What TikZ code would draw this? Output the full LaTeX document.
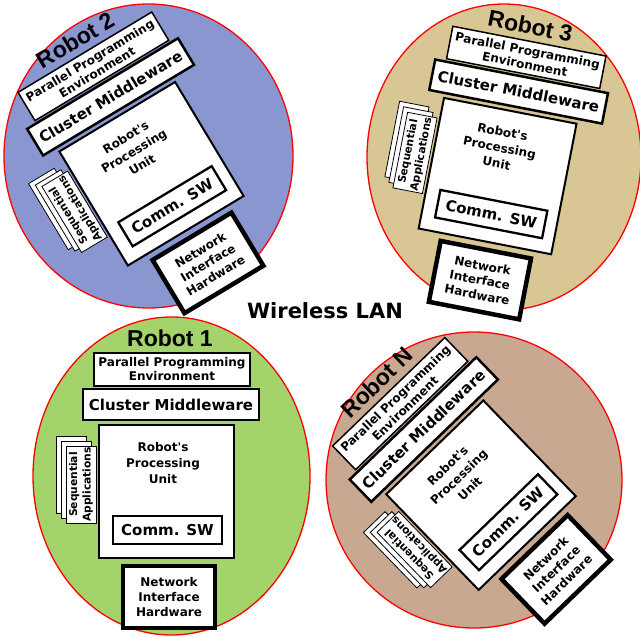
\documentclass[tikz,border=0pt]{standalone}
\usepackage{fontspec}
\newfontfamily\boxfont[Ligatures=TeXOff]{DejaVu Sans}
\newfontfamily\titlefont{Liberation Sans}
\usetikzlibrary{shapes.geometric}

\definecolor{zoneblue}{RGB}{138,150,208}
\definecolor{zonetan}{RGB}{216,199,148}
\definecolor{zonegreen}{RGB}{164,211,108}
\definecolor{zonebrown}{RGB}{201,168,145}

\tikzset{
  zone/.style={ellipse, draw=red, line width=1.3pt, inner sep=0pt},
  layer/.style={draw, fill=white, inner sep=0pt, align=center,
    font=\boxfont\bfseries\fontsize{12}{14}\selectfont},
  biglayer/.style={layer, font=\boxfont\bfseries\fontsize{15}{17}\selectfont},
  unittext/.style={inner sep=0pt, align=center,
    font=\boxfont\bfseries\fontsize{12}{16}\selectfont},
  page/.style={draw, fill=white, line width=0.8pt, inner sep=0pt,
    minimum width=30pt, minimum height=77pt},
  seqtext/.style={inner sep=0pt, align=center,
    font=\boxfont\bfseries\fontsize{10.7}{13.5}\selectfont},
  robottitle/.style={inner sep=0pt,
    font=\titlefont\bfseries\fontsize{23}{26}\selectfont},
  robot/.pic={
    \node[robottitle] (-title) at (3.5,-153.5) {#1};
    \node[layer, minimum width=156pt, minimum height=33pt, line width=1.5pt]
      (-ppe) at (5.5,-122) {Parallel Programming\\Environment};
    \node[biglayer, minimum width=176pt, minimum height=31pt, line width=2.5pt]
      (-cm) at (4.5,-87) {Cluster Middleware};
    \node[layer, minimum width=135pt, minimum height=133pt, line width=2pt]
      (-pu) at (0,0) {};
    \node[unittext] (-put) at (-3.5,-28.5) {Robot's\\Processing\\Unit};
    \node[biglayer, minimum width=109pt, minimum height=28pt, line width=2.3pt]
      (-sw) at (1,38.5) {Comm. SW};
    \node[page] (-p3) at (-95.5,-16.3) {};
    \node[page] (-p2) at (-90.5,-11.6) {};
    \node[page] (-p1) at (-85.5,-7) {};
    \node[seqtext, rotate=90] (-seq) at (-85.5,-7) {Sequential\\Applications};
    \node[layer, minimum width=92pt, minimum height=62pt, line width=4.5pt,
      font=\boxfont\bfseries\fontsize{12}{14.8}\selectfont]
      (-nih) at (2.5,105.5) {Network\\Interface\\Hardware};
  }
}

\begin{document}
\begin{tikzpicture}[x=1pt, y=-1pt]
  \path[use as bounding box, fill=white] (0,0) rectangle (640,635);

  % robot zones
  \node[zone, fill=zoneblue,  minimum width=289pt, minimum height=304pt] (z2) at (148.5,156) {};
  \node[zone, fill=zonetan,   minimum width=274pt, minimum height=306pt] (z3) at (504,157) {};
  \node[zone, fill=zonegreen, minimum width=277pt, minimum height=318pt] (z1) at (171.5,476) {};
  \node[zone, fill=zonebrown, minimum width=296pt, minimum height=296pt] (zN) at (474,480) {};

  % robot software/hardware stacks
  \pic[transform shape] (r1) at (166.5,491.5) {robot={Robot 1}};
  \pic[rotate=31, transform shape] (r2) at (151.5,173.75) {robot={Robot 2}};
  \pic[rotate=-11, transform shape] (r3) at (497.6,176.1) {robot={Robot 3}};
  \pic[rotate=44, transform shape] (rN) at (481,495.2) {robot={Robot N}};

  \node[inner sep=0pt, font=\boxfont\bfseries\fontsize{21}{24}\selectfont]
    (lan) at (325,311) {Wireless LAN};
\end{tikzpicture}
\end{document}
